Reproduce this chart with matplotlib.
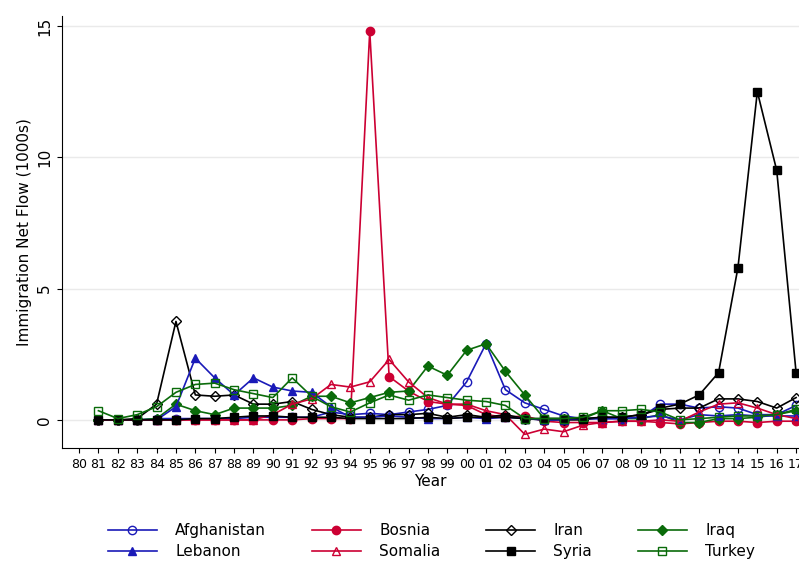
import matplotlib.pyplot as plt
import numpy as np

years = np.arange(81, 118)  # 1981..2017 plotted as 81..117
tick_labels = ['80'] + [f'{y % 100:02d}' for y in range(1981, 2018)]

afghanistan = [0, 0, 0, 0.05, 0.05, 0.05, 0.05, 0.05, 0.1, 0.1, 0.1, 0.1, 0.3, 0.2, 0.25, 0.2, 0.3, 0.4,
               0.55, 1.45, 2.9, 1.15, 0.65, 0.4, 0.15, 0.05, 0.05, 0.05, 0.1, 0.6, 0.6, 0.45, 0.5, 0.45,
               0.2, 0.2, 0.55]
bosnia = [0, 0, 0, 0, 0, 0, 0, 0, 0, 0, 0, 0.05, 0.05, 0.05, 14.8, 1.65, 1.1, 0.7, 0.6, 0.55, 0.2, 0.1,
          0.15, -0.05, -0.1, -0.1, -0.1, -0.05, -0.05, -0.1, -0.15, -0.1, -0.05, -0.05, -0.1, -0.05, -0.05]
iran = [0, 0, 0.05, 0.6, 3.75, 0.95, 0.9, 0.95, 0.6, 0.6, 0.7, 0.4, 0.2, 0.1, 0.1, 0.2, 0.2, 0.25, 0.1,
        0.2, 0.1, 0.2, 0.05, 0, 0, 0, 0.1, 0.1, 0.2, 0.4, 0.45, 0.45, 0.8, 0.8, 0.7, 0.45, 0.85]
iraq = [0, 0, 0, 0.05, 0.6, 0.35, 0.2, 0.45, 0.45, 0.45, 0.55, 0.9, 0.9, 0.65, 0.85, 1.05, 1.1, 2.05,
        1.7, 2.65, 2.9, 1.85, 0.95, 0.05, 0.05, 0.05, 0.35, 0.05, 0.05, 0.2, -0.1, -0.1, 0.05, 0.05,
        0.1, 0.2, 0.35]
lebanon = [0, 0, 0, 0, 0.5, 2.35, 1.6, 0.95, 1.6, 1.25, 1.1, 1.05, 0.5, 0.1, 0.1, 0.15, 0.1, 0.05, 0.05,
           0.1, 0.05, 0.1, 0.05, 0, 0, 0.05, 0.05, 0.05, 0.1, 0.15, 0, 0.2, 0.15, 0.2, 0.15, 0.15, 0.15]
somalia = [0, 0, 0, 0, 0, 0, 0, 0, 0, 0.2, 0.6, 0.8, 1.35, 1.25, 1.45, 2.3, 1.45, 0.85, 0.6, 0.6, 0.35,
           0.2, -0.55, -0.35, -0.45, -0.2, -0.1, -0.05, -0.05, 0, -0.05, 0.3, 0.6, 0.65, 0.45, 0.2, 0.05]
syria = [0, 0, 0, 0, 0, 0.05, 0.05, 0.1, 0.15, 0.15, 0.1, 0.1, 0.1, 0.05, 0.05, 0.05, 0.05, 0.1, 0.05,
         0.1, 0.1, 0.1, 0.05, 0.05, 0.05, 0.05, 0.1, 0.1, 0.2, 0.45, 0.6, 0.95, 1.8, 5.8, 12.5, 9.5, 1.8]
turkey = [0.35, 0.05, 0.2, 0.5, 1.05, 1.35, 1.4, 1.15, 1.0, 0.85, 1.6, 0.9, 0.5, 0.3, 0.65, 0.95, 0.75,
          0.95, 0.85, 0.75, 0.7, 0.55, 0.05, 0.05, 0.05, 0.1, 0.35, 0.35, 0.4, 0.3, 0, 0.05, 0.1, 0.15,
          0.15, 0.2, 0.4]

blue = '#1a1ab8'
red = '#cc0033'
green = '#0a6b0a'

series = [
    ('Afghanistan', afghanistan, blue, 'o', 'none'),
    ('Bosnia', bosnia, red, 'o', red),
    ('Iran', iran, 'black', 'D', 'none'),
    ('Iraq', iraq, green, 'D', green),
    ('Lebanon', lebanon, blue, '^', blue),
    ('Somalia', somalia, red, '^', 'none'),
    ('Syria', syria, 'black', 's', 'black'),
    ('Turkey', turkey, green, 's', 'none'),
]

fig = plt.figure(figsize=(7.99, 5.66), dpi=100)
ax = fig.add_axes([62 / 799, 1 - 448 / 566, 1 - 62 / 799, (448 - 16) / 566])

for name, vals, col, mk, fc in series:
    ms = 5 if mk == 'D' else 6
    ax.plot(years, vals, color=col, marker=mk, markerfacecolor=fc, markeredgecolor=col,
            markersize=ms, linewidth=1.2, label=name)

ax.set_xlim(79.12, 117.15)
ax.set_ylim(-1.07, 15.38)
ax.set_xticks(np.arange(80, 118))
ax.set_xticklabels(tick_labels, fontsize=9)
ax.set_yticks([0, 5, 10, 15])
ax.set_yticklabels(['0', '5', '10', '15'], rotation=90, va='center', fontsize=11)
ax.grid(axis='y', color='#eaeaea', linewidth=1)
ax.set_axisbelow(True)
for s in ['top', 'right']:
    ax.spines[s].set_visible(False)
ax.set_xlabel('Year', fontsize=11, labelpad=2)
ax.set_ylabel('Immigration Net Flow (1000s)', fontsize=11)

# legend rows: matplotlib fills column-first, so interleave
handles, labels = ax.get_legend_handles_labels()
order = [0, 4, 1, 5, 2, 6, 3, 7]
fig.legend([handles[i] for i in order], [labels[i] for i in order],
           loc='lower center', bbox_to_anchor=(0.54, -0.012), ncol=4,
           frameon=False, fontsize=11, handlelength=3.2, columnspacing=3.0, handletextpad=1.2,
           labelspacing=0.4)

fig.savefig('out.png', dpi=100)
